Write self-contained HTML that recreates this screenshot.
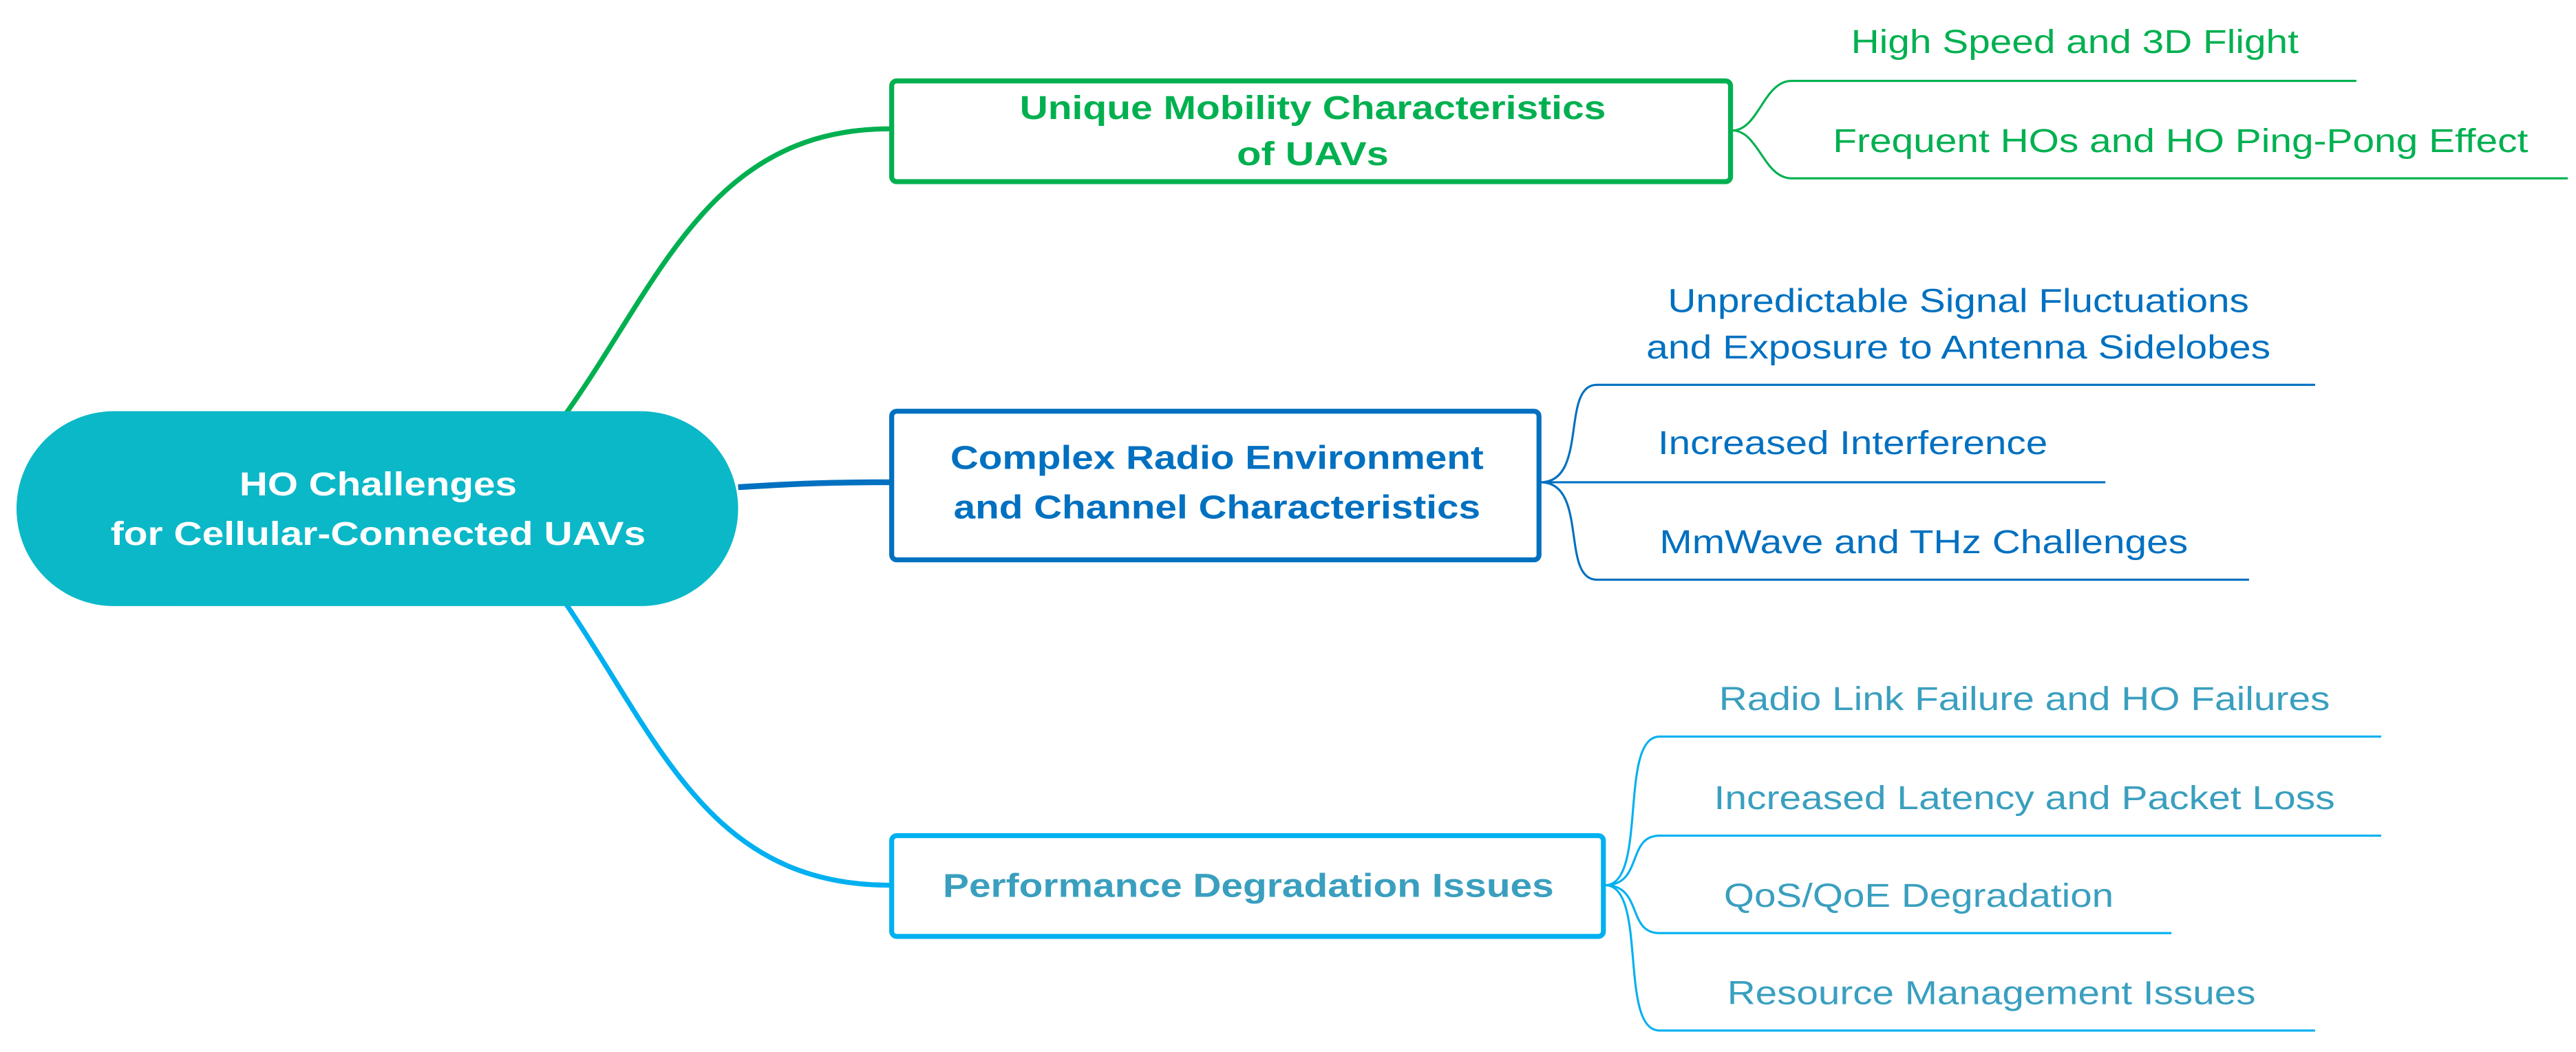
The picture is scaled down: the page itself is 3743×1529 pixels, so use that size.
<!DOCTYPE html>
<html><head><meta charset="utf-8"><style>html,body{margin:0;padding:0;background:#fff}svg{display:block}</style></head>
<body>
<svg width="3743" height="1529" viewBox="0 0 1560 637" preserveAspectRatio="none" xmlns="http://www.w3.org/2000/svg" font-family="Liberation Sans, Arial, sans-serif">
<!-- connectors from root -->
<path d="M343,250 C400,170 430,78 539,78" fill="none" stroke="#00B050" stroke-width="3"/>
<path d="M447,295 C480,293 500,292 539,292" fill="none" stroke="#0070C0" stroke-width="3.5"/>
<path d="M343,366 C400,450 430,536 539,536" fill="none" stroke="#00B0F0" stroke-width="3"/>
<!-- root -->
<rect x="10" y="249" width="437" height="118" rx="59" ry="59" fill="#0BB8C8"/>
<text x="229" y="300" fill="#fff" font-weight="bold" font-size="20" text-anchor="middle" textLength="168" lengthAdjust="spacingAndGlyphs">HO Challenges</text>
<text x="229" y="330" fill="#fff" font-weight="bold" font-size="20" text-anchor="middle" textLength="324" lengthAdjust="spacingAndGlyphs">for Cellular-Connected UAVs</text>
<!-- green -->
<rect x="540" y="49" width="508" height="61" rx="3" fill="#fff" stroke="#00B050" stroke-width="3"/>
<text x="795" y="72" fill="#00B050" font-weight="bold" font-size="20" text-anchor="middle" textLength="355" lengthAdjust="spacingAndGlyphs">Unique Mobility Characteristics</text>
<text x="795" y="100" fill="#00B050" font-weight="bold" font-size="20" text-anchor="middle" textLength="92" lengthAdjust="spacingAndGlyphs">of UAVs</text>
<path d="M1049,79 C1065,79 1068,49 1085,49 L1427,49 M1049,79 C1065,79 1068,108 1085,108 L1555,108" fill="none" stroke="#00B050" stroke-width="1.3"/>
<text x="1121" y="32" fill="#00B050" font-size="20" textLength="271" lengthAdjust="spacingAndGlyphs">High Speed and 3D Flight</text>
<text x="1110" y="92" fill="#00B050" font-size="20" textLength="421" lengthAdjust="spacingAndGlyphs">Frequent HOs and HO Ping-Pong Effect</text>
<!-- blue -->
<rect x="540" y="249" width="392" height="90" rx="3" fill="#fff" stroke="#0070C0" stroke-width="3"/>
<text x="737" y="284" fill="#0070C0" font-weight="bold" font-size="20" text-anchor="middle" textLength="323" lengthAdjust="spacingAndGlyphs">Complex Radio Environment</text>
<text x="737" y="314" fill="#0070C0" font-weight="bold" font-size="20" text-anchor="middle" textLength="319" lengthAdjust="spacingAndGlyphs">and Channel Characteristics</text>
<path d="M933,292 C962,292 945,233 967,233 L1402,233 M933,292 L1275,292 M933,292 C962,292 945,351 967,351 L1362,351" fill="none" stroke="#0070C0" stroke-width="1.3"/>
<text x="1010" y="189" fill="#0070C0" font-size="20" textLength="352" lengthAdjust="spacingAndGlyphs">Unpredictable Signal Fluctuations</text>
<text x="997" y="217" fill="#0070C0" font-size="20" textLength="378" lengthAdjust="spacingAndGlyphs">and Exposure to Antenna Sidelobes</text>
<text x="1004" y="275" fill="#0070C0" font-size="20" textLength="236" lengthAdjust="spacingAndGlyphs">Increased Interference</text>
<text x="1005" y="335" fill="#0070C0" font-size="20" textLength="320" lengthAdjust="spacingAndGlyphs">MmWave and THz Challenges</text>
<!-- light blue -->
<rect x="540" y="506" width="431" height="61" rx="3" fill="#fff" stroke="#00B0F0" stroke-width="3"/>
<text x="756" y="543" fill="#3A9FBF" font-weight="bold" font-size="20" text-anchor="middle" textLength="370" lengthAdjust="spacingAndGlyphs">Performance Degradation Issues</text>
<path d="M972,536 C998,536 980,446 1005,446 L1442,446 M972,536 C995,536 985,506 1005,506 L1442,506 M972,536 C995,536 985,565 1005,565 L1315,565 M972,536 C998,536 980,624 1005,624 L1402,624" fill="none" stroke="#00B0F0" stroke-width="1.3"/>
<text x="1041" y="430" fill="#3A9FBF" font-size="20" textLength="370" lengthAdjust="spacingAndGlyphs">Radio Link Failure and HO Failures</text>
<text x="1038" y="490" fill="#3A9FBF" font-size="20" textLength="376" lengthAdjust="spacingAndGlyphs">Increased Latency and Packet Loss</text>
<text x="1044" y="549" fill="#3A9FBF" font-size="20" textLength="236" lengthAdjust="spacingAndGlyphs">QoS/QoE Degradation</text>
<text x="1046" y="608" fill="#3A9FBF" font-size="20" textLength="320" lengthAdjust="spacingAndGlyphs">Resource Management Issues</text>
</svg>
</body></html>
